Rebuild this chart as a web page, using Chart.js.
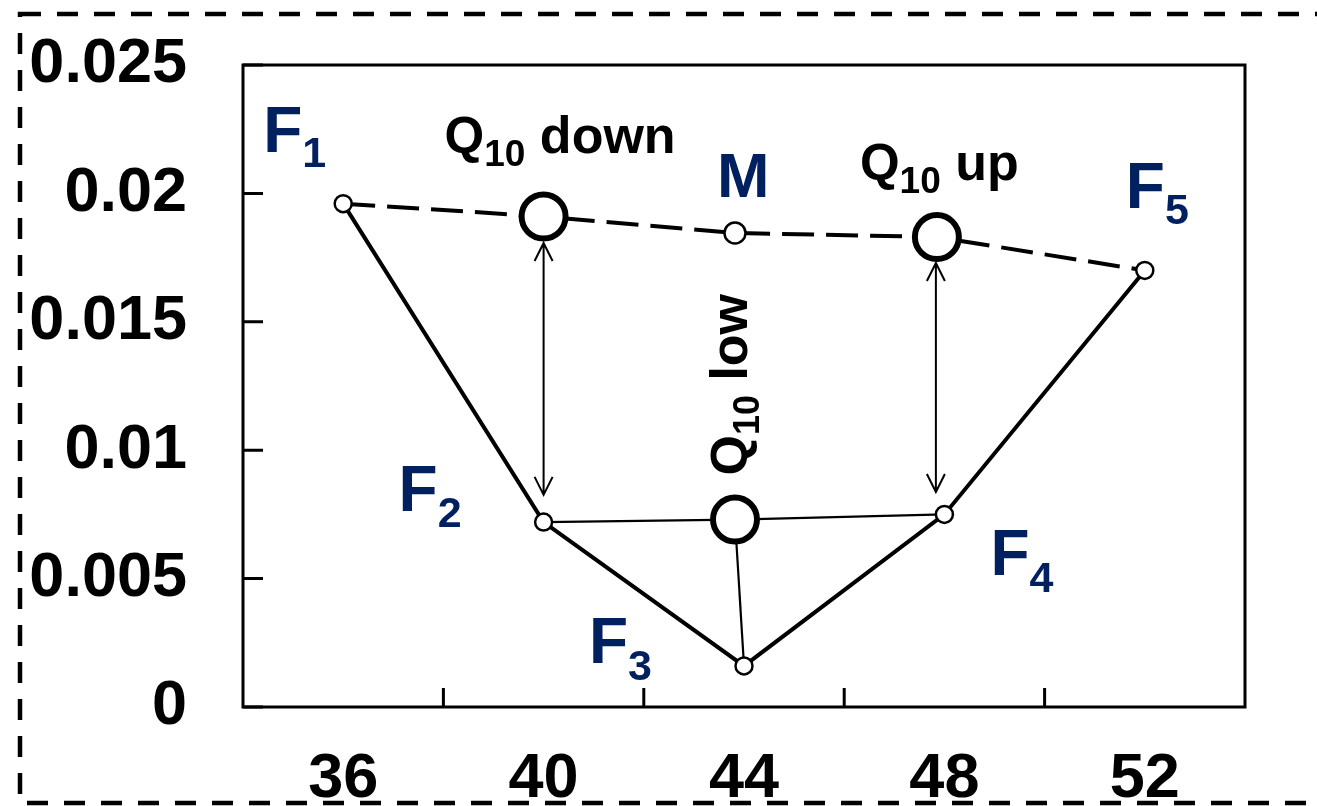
<!DOCTYPE html>
<html><head><meta charset="utf-8">
<script src="https://cdn.jsdelivr.net/npm/chart.js@4/dist/chart.umd.min.js"></script>
<style>html,body{margin:0;padding:0;background:#fff;}canvas{display:block}</style>
</head><body>
<canvas id="c" width="1317" height="806"></canvas>
<script>
// ---- data ----
const xLabels = [36, 40, 44, 48, 52];
const xTickMarks = [38, 42, 46, 50];
const yTickLabels = ['0', '0.005', '0.01', '0.015', '0.02', '0.025'];
const fNames = ['1', '2', '3', '4', '5'];
const fX = [36, 40, 44, 48, 52];
const fY = [0.0196, 0.0072, 0.0016, 0.0075, 0.0170];
const mX = 43.82;
const mY = 0.01846;
const q10Names = ['down', 'up', 'low'];
const q10X = [40, 47.85, 43.82];
const q10Y = [0.0191, 0.0183, 0.0073];
const arrowX = [40, 47.83];
const arrowFromY = [0.01807, 0.01729];
const arrowToY = [0.00826, 0.00837];

const NAVY = '#002060';
const FONT = '"Liberation Sans", Arial, sans-serif';

const pt = (x, y) => ({x, y});
const F = fX.map((x, i) => pt(x, fY[i]));
const Q = q10X.map((x, i) => pt(x, q10Y[i]));
const M = pt(mX, mY);

// label definitions: anchor point + pixel offsets
const labelDefs = [
  {a: F[0], dx: -80, dy: -52, color: NAVY, parts: [['F', 64, 0], [fNames[0], 43, 15]]},
  {a: F[1], dx: -145, dy: -11, color: NAVY, parts: [['F', 64, 0], [fNames[1], 43, 16]]},
  {a: F[2], dx: -155, dy: -3, color: NAVY, parts: [['F', 64, 0], [fNames[2], 43, 17]]},
  {a: F[3], dx: 46, dy: 61, color: NAVY, parts: [['F', 64, 0], [fNames[3], 43, 17]]},
  {a: F[4], dx: -19, dy: -62, color: NAVY, parts: [['F', 64, 0], [fNames[4], 43, 16]]},
  {a: M, dx: -18, dy: -36, color: NAVY, parts: [['M', 63, 0]]},
  {a: Q[0], dx: -99, dy: -64, color: '#000', parts: [['Q', 51, 0], ['10', 37, 13], [' ' + q10Names[0], 52, 0]]},
  {a: Q[1], dx: -77, dy: -57, color: '#000', parts: [['Q', 51, 0], ['10', 37, 13], [' ' + q10Names[1], 52, 0]]},
  {a: Q[2], dx: 12, dy: -44, rot: true, color: '#000', parts: [['Q', 52, 0], ['10', 36, 12], [' ' + q10Names[2], 52, 0]]}
];

const bgPlugin = {
  id: 'bg',
  beforeDraw(chart) {
    const ctx = chart.ctx;
    ctx.save();
    ctx.fillStyle = '#fff';
    ctx.fillRect(0, 0, chart.width, chart.height);
    ctx.setLineDash([21, 16]);
    ctx.lineWidth = 4.5;
    ctx.strokeStyle = '#000';
    ctx.strokeRect(20, 14, 1340, 789);
    ctx.restore();
  }
};

const framePlugin = {
  id: 'frame',
  beforeDatasetsDraw(chart) {
    const {ctx, chartArea: a, scales} = chart;
    ctx.save();
    ctx.strokeStyle = '#000';
    ctx.lineWidth = 3;
    ctx.strokeRect(a.left, a.top, a.right - a.left, a.bottom - a.top);
    ctx.beginPath();
    xTickMarks.forEach(v => {
      const px = scales.x.getPixelForValue(v);
      ctx.moveTo(px, a.bottom);
      ctx.lineTo(px, a.bottom - 19);
    });
    scales.y.ticks.forEach(t => {
      const py = scales.y.getPixelForValue(t.value);
      ctx.moveTo(a.left, py);
      ctx.lineTo(a.left + 20, py);
    });
    ctx.stroke();
    ctx.restore();
  },
  afterDatasetsDraw(chart) {
    const {ctx, scales} = chart;
    ctx.save();
    // arrows
    ctx.strokeStyle = '#000';
    ctx.lineWidth = 2;
    arrowX.forEach((x, i) => {
      const px = scales.x.getPixelForValue(x);
      const y1 = scales.y.getPixelForValue(arrowFromY[i]);
      const y2 = scales.y.getPixelForValue(arrowToY[i]);
      ctx.beginPath();
      ctx.moveTo(px, y1); ctx.lineTo(px, y2);
      ctx.moveTo(px - 9, y1 + 18); ctx.lineTo(px, y1); ctx.lineTo(px + 9, y1 + 18);
      ctx.moveTo(px - 9, y2 - 18); ctx.lineTo(px, y2); ctx.lineTo(px + 9, y2 - 18);
      ctx.stroke();
    });
    // labels
    ctx.textBaseline = 'alphabetic';
    ctx.textAlign = 'left';
    labelDefs.forEach(d => {
      const ax = scales.x.getPixelForValue(d.a.x) + d.dx;
      const ay = scales.y.getPixelForValue(d.a.y) + d.dy;
      ctx.save();
      ctx.translate(ax, ay);
      if (d.rot) ctx.rotate(-Math.PI / 2);
      ctx.fillStyle = d.color;
      let cx = 0;
      d.parts.forEach(([t, size, drop]) => {
        ctx.font = 'bold ' + size + 'px ' + FONT;
        ctx.fillText(t, cx, drop);
        cx += ctx.measureText(t).width;
      });
      ctx.restore();
    });
    ctx.restore();
  }
};

const tickFont = {family: FONT, size: 63, weight: 'bold'};
const markerStyle = {pointBackgroundColor: '#fff', pointBorderColor: '#000'};

new Chart(document.getElementById('c'), {
  type: 'scatter',
  data: {
    datasets: [
      Object.assign({label: 'Q10', data: Q, showLine: false, pointRadius: 22, pointBorderWidth: 6}, markerStyle),
      Object.assign({label: 'M', data: [M], showLine: false, pointRadius: 10.5, pointBorderWidth: 2.5}, markerStyle),
      Object.assign({label: 'F', data: F, showLine: true, borderColor: '#000', borderWidth: 4, pointRadius: 8.5, pointBorderWidth: 2.5}, markerStyle),
      {label: 'dashed', data: [F[0], Q[0], M, Q[1], F[4]], showLine: true, borderColor: '#000', borderWidth: 4, borderDash: [32, 12], pointRadius: 0},
      {label: 'thin1', data: [F[1], Q[2], F[3]], showLine: true, borderColor: '#000', borderWidth: 2.2, pointRadius: 0},
      {label: 'thin2', data: [Q[2], F[2]], showLine: true, borderColor: '#000', borderWidth: 2.2, pointRadius: 0}
    ]
  },
  options: {
    responsive: false,
    animation: false,
    devicePixelRatio: 1,
    layout: {padding: {top: 65, right: 72, left: 0, bottom: 0}},
    plugins: {legend: {display: false}, tooltip: {enabled: false}},
    scales: {
      x: {
        type: 'linear', min: 34, max: 54,
        grid: {display: false, drawTicks: false},
        border: {display: false},
        ticks: {
          stepSize: 2, autoSkip: false, maxRotation: 0, minRotation: 0,
          color: '#000', font: tickFont, padding: 35,
          callback: v => xLabels.includes(v) ? String(v) : ''
        },
        afterFit: s => { s.height = 99; s.paddingLeft = 0; s.paddingRight = 0; }
      },
      y: {
        type: 'linear', min: 0, max: 0.025,
        grid: {display: false, drawTicks: false},
        border: {display: false},
        ticks: {
          stepSize: 0.005, autoSkip: false,
          color: '#000', font: tickFont, padding: 56,
          callback: (v, i) => yTickLabels[i]
        },
        afterFit: s => { s.width = 243; s.paddingTop = 0; s.paddingBottom = 0; }
      }
    }
  },
  plugins: [bgPlugin, framePlugin]
});
</script></body></html>
